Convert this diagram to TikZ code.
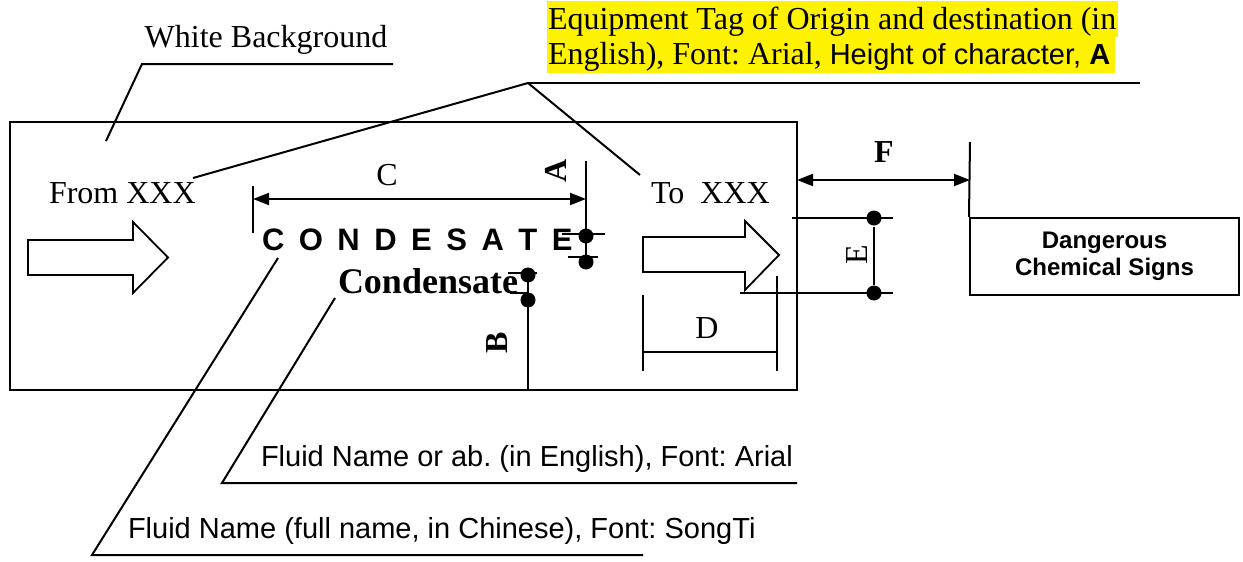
\documentclass[tikz,border=0pt]{standalone}
\usepackage{fontspec}
\setmainfont{Liberation Serif}
\newfontfamily\arial{Liberation Sans}
\usetikzlibrary{arrows.meta}
\frenchspacing
\begin{document}
\frenchspacing
\begin{tikzpicture}[x=1pt,y=-1pt,line width=2pt,
  times/.style={font=\frenchspacing\fontsize{32}{38}\selectfont,inner sep=0pt},
  timesb/.style={font=\fontsize{32}{38}\selectfont\bfseries,inner sep=0pt},
  arialt/.style={font=\frenchspacing\arial\fontsize{29}{34}\selectfont,inner sep=0pt},
  dimarr/.style={{Triangle[length=16pt,width=12pt]}-{Triangle[length=16pt,width=12pt]}},
  dimdot/.style={circle,fill=black,inner sep=0pt,minimum size=15pt},
  blockarrow/.style={fill=white,line width=1.8pt}]
\useasboundingbox (0,0) rectangle (1243,562);

% main box
\draw (10,122) rectangle (797,390);

% White background label
\node[times,anchor=base] (wb) at (266,47) {White Background};
\coordinate (wb1) at (393,64);
\coordinate (wb2) at (142,64);
\coordinate (wb3) at (106,141);
\draw (wb1) -- (wb2) -- (wb3);

% yellow label
\fill[yellow] (547,1) rectangle (1118,37);
\fill[yellow] (547,37) rectangle (1115,73);
\node[times,anchor=base west] (tag1) at (547,30) {Equipment Tag of Origin and destination (in};
\node[times,anchor=base west] (tag2) at (547,64) {English), Font: Arial, {\arial\fontsize{29}{34}\selectfont Height of character, \textbf{A}}};
\coordinate (tagp) at (528,83);
\coordinate (tage) at (1140,83);
\coordinate (fromend) at (193,178);
\coordinate (toend) at (640,175);
\draw (fromend) -- (tagp) -- (toend);
\draw (tagp) -- (tage);

% From / To
\node[times,anchor=base west] (from) at (48,203) {From XXX};
\node[times,anchor=base west] (to) at (650,203) {To\ \ XXX};

% block arrows
\draw[blockarrow] (28,240) -- (133,240) -- (133,222) -- (168,257.5) -- (133,293) -- (133,275) -- (28,275) -- cycle;
\draw[blockarrow] (643,237) -- (745,237) -- (745,221) -- (779,255) -- (745,290) -- (745,272) -- (643,272) -- cycle;

% fluid names
\node[font=\arial\bfseries\fontsize{31}{36}\selectfont,inner sep=0pt,anchor=base west] (cond) at (261,250) {{\spaceskip=14.5pt\relax C O N D E S A T E}};
\node[font=\fontsize{36}{42}\selectfont\bfseries,inner sep=0pt,anchor=base west] (condl) at (337,293) {Condensate};

% C dimension
\coordinate (c1) at (253,186);
\coordinate (c2) at (253,233);
\draw (c1) -- (c2);
\coordinate (ca) at (253,199);
\coordinate (cb) at (586,199);
\draw[dimarr] (ca) -- (cb);
\node[times,anchor=base] (Clab) at (387,185) {C};

% A dimension
\coordinate (a0) at (586,161);
\node[dimdot] (a1) at (586,236) {};
\node[dimdot] (a2) at (586,262) {};
\draw (a0) -- (a2.center);
\draw (562,234) -- (605,234);
\draw (568,257) -- (598,257);
\node[timesb,rotate=90] (Alab) at (556,171) {A};

% B dimension
\node[dimdot] (b1) at (528,275) {};
\node[dimdot] (b2) at (528,300) {};
\coordinate (b0) at (528,390);
\draw (b1.center) -- (b0);
\draw (508,273) -- (537,273);
\draw (510,293) -- (527,293);
\node[timesb,rotate=90] (Blab) at (497,343) {B};

% D dimension
\draw (643,295) -- (643,371);
\draw (777,276) -- (777,371);
\coordinate (d1) at (643,352);
\coordinate (d2) at (777,352);
\draw (d1) -- (d2);
\node[times,anchor=base] (Dlab) at (707,338) {D};

% E dimension
\draw (792,218) -- (893,218);
\draw (740,293) -- (893,293);
\node[dimdot] (e1) at (874,218) {};
\node[dimdot] (e2) at (874,293) {};
\draw (e1) -- (e2);
\node[times,rotate=90] (Elab) at (857,255) {E};

% F dimension and sign box
\node[draw,minimum width=269pt,minimum height=77pt,inner sep=0pt,align=center,
      font=\arial\bfseries\fontsize{24}{27}\selectfont] (sign) at (1104.5,256.5) {Dangerous\\Chemical Signs};
\coordinate (f0) at (970,142);
\draw (f0) -- (sign.north west);
\coordinate (f1) at (797,180);
\coordinate (f2) at (970,180);
\draw[dimarr] (f1) -- (f2);
\node[timesb,anchor=base] (Flab) at (884,162) {F};

% bottom leaders
\node[arialt,anchor=base west] (fl1) at (260,466) {Fluid Name or ab. (in English), Font: Arial};
\coordinate (l1a) at (335,298);
\coordinate (l1b) at (222,483);
\coordinate (l1c) at (797,483);
\draw (l1a) -- (l1b) -- (l1c);
\node[arialt,anchor=base west] (fl2) at (127,538) {Fluid Name (full name, in Chinese), Font: SongTi};
\coordinate (l2a) at (278,258);
\coordinate (l2b) at (92,555);
\coordinate (l2c) at (643,555);
\draw (l2a) -- (l2b) -- (l2c);
\end{tikzpicture}
\end{document}
